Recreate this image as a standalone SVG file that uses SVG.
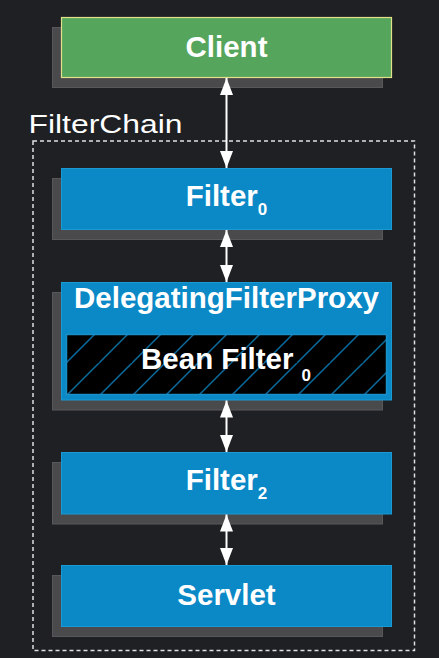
<svg xmlns="http://www.w3.org/2000/svg" width="439" height="658" viewBox="0 0 439 658">
<style>
.shadow{fill:#4a4a4d;stroke:#58585b;stroke-width:1}
.blue{fill:#0b88c6;stroke:#1a9ad2;stroke-width:1}
.green{fill:#56a55c;stroke:#e3e08a;stroke-width:1.2}
.lbl{font-family:"Liberation Sans",Arial,sans-serif;font-weight:bold;font-size:29.5px;fill:#ffffff;text-anchor:middle}
.sub{font-size:17px}
.conn{stroke:#ffffff;stroke-width:2;fill:none;marker-start:url(#ah);marker-end:url(#ah)}
</style>
<defs>
<marker id="ah" viewBox="0 0 17 13" refX="17" refY="6.5" markerWidth="17" markerHeight="13" markerUnits="userSpaceOnUse" orient="auto-start-reverse">
<path d="M0,0 L17,6.5 L0,13 Z" fill="#ffffff"/>
</marker>
<pattern id="hatch" patternUnits="userSpaceOnUse" width="33" height="33" x="0" y="0">
<path d="M-2,35 L35,-2 M-35,35 L2,-2 M31,68 L68,31" stroke="#0c6b9e" stroke-width="1.5"/>
</pattern>
</defs>
<rect x="0" y="0" width="439" height="658" fill="#1e2024"/>
<g id="filterchain">
<rect x="33" y="141" width="381.5" height="509.5" fill="none" stroke="#e0e0e0" stroke-width="1.5" stroke-dasharray="4 3"/>
<text x="28.5" y="133.3" font-family="'Liberation Sans',Arial,sans-serif" font-size="26" fill="#ffffff" textLength="154" lengthAdjust="spacingAndGlyphs">FilterChain</text>
</g>
<g id="client">
<rect class="shadow" x="52.5" y="27.5" width="330" height="60"/>
<rect class="green" x="61.5" y="17.5" width="330" height="60"/>
<text class="lbl" x="226.5" y="57.3">Client</text>
</g>
<g id="filter0">
<rect class="shadow" x="52.5" y="178.5" width="330" height="61"/>
<rect class="blue" x="61.5" y="168.5" width="330" height="61"/>
<text class="lbl" x="226.5" y="206">Filter<tspan class="sub" dy="9">0</tspan></text>
</g>
<g id="delegating">
<rect class="shadow" x="52.5" y="292.5" width="330" height="117.5"/>
<rect class="blue" x="61.5" y="282.5" width="330" height="117.5"/>
<text class="lbl" x="226.5" y="307.7">DelegatingFilterProxy</text>
<g id="beanfilter">
<rect x="66.5" y="334.5" width="320" height="60" fill="#000000"/>
<rect x="66.5" y="334.5" width="320" height="60" fill="url(#hatch)" stroke="#1a8fc8" stroke-width="1.5"/>
<text class="lbl" x="226" y="369">Bean Filter<tspan class="sub" dx="8" dy="12">0</tspan></text>
</g>
</g>
<g id="filter2">
<rect class="shadow" x="52.5" y="462.5" width="330" height="61.5"/>
<rect class="blue" x="61.5" y="452.5" width="330" height="61.5"/>
<text class="lbl" x="226.5" y="490">Filter<tspan class="sub" dy="9">2</tspan></text>
</g>
<g id="servlet">
<rect class="shadow" x="52.5" y="575.5" width="330" height="61"/>
<rect class="blue" x="61.5" y="565.5" width="330" height="61"/>
<text class="lbl" x="226.5" y="605">Servlet</text>
</g>
<g id="connectors">
<line class="conn" x1="226.5" y1="78" x2="226.5" y2="168"/>
<line class="conn" x1="226.5" y1="230" x2="226.5" y2="282"/>
<line class="conn" x1="226.5" y1="400.5" x2="226.5" y2="452"/>
<line class="conn" x1="226.5" y1="514.5" x2="226.5" y2="565"/>
</g>
</svg>
